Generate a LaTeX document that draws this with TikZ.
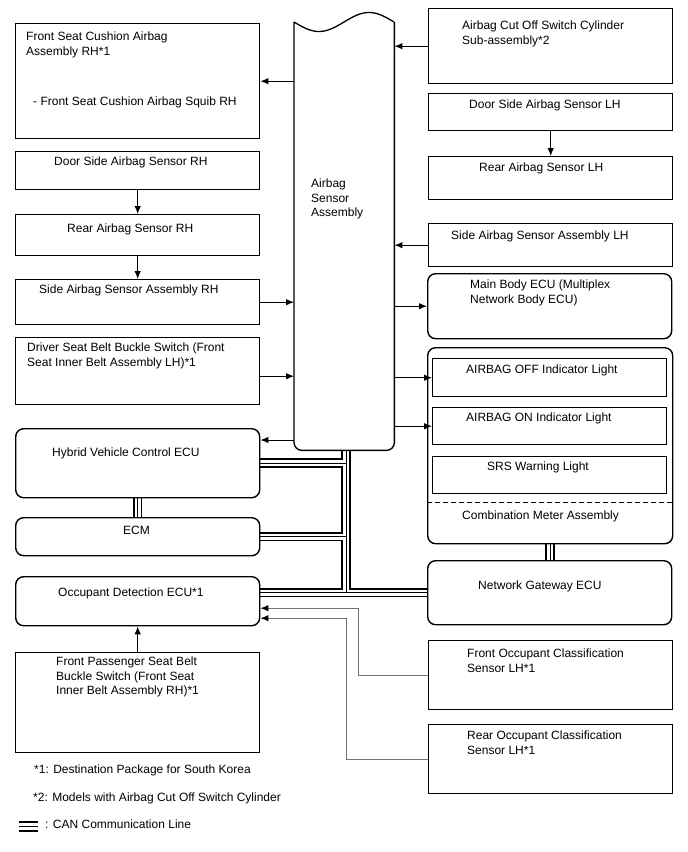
\documentclass[tikz,border=0pt]{standalone}
\usepackage{fontspec}
\setmainfont{Liberation Sans}
\usetikzlibrary{arrows.meta,backgrounds}

\tikzset{
  box/.style={draw, line width=1.4pt, minimum width=244pt, anchor=north west, inner sep=0pt},
  ecu/.style={box, rounded corners=8pt},
  lamp/.style={box, minimum width=234pt},
  txt/.style={anchor=north west, inner sep=0pt, align=left, font=\fontsize{12}{14.5}\selectfont},
  arr/.style={line width=1pt, -{Latex[length=8pt,width=6.5pt]}},
  feed/.style={line width=1pt, draw=black!55, -{Latex[length=8pt,width=6.5pt,color=black]}},
}

\begin{document}
\begin{tikzpicture}[x=1pt, y=-1pt]
  \useasboundingbox (0,0) rectangle (688,852);

  % airbag sensor assembly
  \node[minimum width=100pt, minimum height=428pt, anchor=north west, inner sep=0pt] (sas) at (294,22) {};
  \draw[line width=1.3pt, domain=0:100, samples=50, variable=\t]
    plot ({294+\t},{22+9.5*sin(3.6*\t)});
  \draw[line width=1.4pt, rounded corners=8pt]
    (sas.north east) -- (sas.south east) -- (sas.south west) -- (sas.north west);
  \node[txt] (sastext) at (311,179) {Airbag\\Sensor\\Assembly};

  % left column
  \node[box, minimum height=115pt] (fsc) at (15,23) {};
  \node[box, minimum height=38pt] (dsr) at (15,151) {};
  \node[box, minimum height=41pt] (rar) at (15,214) {};
  \node[box, minimum height=45pt] (sar) at (15,279) {};
  \node[box, minimum height=67pt] (dsb) at (15,337) {};
  \node[ecu, minimum height=69pt] (hv) at (15,428) {};
  \node[ecu, minimum height=38pt] (ecm) at (15,517) {};
  \node[ecu, minimum height=49pt] (ode) at (15,576) {};
  \node[box, minimum height=100pt] (fps) at (15,652) {};

  \node[txt] (fsctext) at (26,32) {Front Seat Cushion Airbag\\Assembly RH*1};
  \node[txt] (sqbtext) at (33,97) {- Front Seat Cushion Airbag Squib RH};
  \node[txt] (dsrtext) at (54,157) {Door Side Airbag Sensor RH};
  \node[txt] (rartext) at (67,224) {Rear Airbag Sensor RH};
  \node[txt] (sartext) at (39,285) {Side Airbag Sensor Assembly RH};
  \node[txt] (dsbtext) at (27,343) {Driver Seat Belt Buckle Switch (Front\\Seat Inner Belt Assembly LH)*1};
  \node[txt] (hvtext) at (52,448) {Hybrid Vehicle Control ECU};
  \node[txt] (ecmtext) at (123,526) {ECM};
  \node[txt] (odetext) at (58,588) {Occupant Detection ECU*1};
  \node[txt] (fpstext) at (56,657) {Front Passenger Seat Belt\\Buckle Switch (Front Seat\\Inner Belt Assembly RH)*1};

  % right column
  \node[box, minimum height=75pt] (aco) at (428,8) {};
  \node[box, minimum height=37pt] (dsl) at (428,93) {};
  \node[box, minimum height=43pt] (ral) at (428,156) {};
  \node[box, minimum height=43pt] (sal) at (428,223) {};
  \node[ecu, minimum height=65pt] (mbe) at (427,273) {};
  \node[ecu, minimum width=245pt, minimum height=196pt] (cma) at (427,347) {};
  \node[lamp, minimum height=38pt] (off) at (432,358) {};
  \node[lamp, minimum height=37pt] (on) at (432,407) {};
  \node[lamp, minimum height=37pt] (srs) at (432,456) {};
  \draw[line width=1pt, dash pattern=on 5pt off 3pt]
    ([yshift=-155pt]cma.north west) -- ([yshift=-155pt]cma.north east);
  \node[ecu, minimum height=64pt] (nge) at (427,560) {};
  \node[box, minimum height=69pt] (foc) at (428,640) {};
  \node[box, minimum height=69pt] (roc) at (428,724) {};

  \node[txt] (acotext) at (462,21) {Airbag Cut Off Switch Cylinder\\Sub-assembly*2};
  \node[txt] (dsltext) at (469,100) {Door Side Airbag Sensor LH};
  \node[txt] (raltext) at (479,163) {Rear Airbag Sensor LH};
  \node[txt] (saltext) at (451,231) {Side Airbag Sensor Assembly LH};
  \node[txt] (mbetext) at (470,280) {Main Body ECU (Multiplex\\Network Body ECU)};
  \node[txt] (offtext) at (466,365) {AIRBAG OFF Indicator Light};
  \node[txt] (ontext) at (466,413) {AIRBAG ON Indicator Light};
  \node[txt] (srstext) at (487,462) {SRS Warning Light};
  \node[txt] (cmatext) at (462,511) {Combination Meter Assembly};
  \node[txt] (ngetext) at (478,581) {Network Gateway ECU};
  \node[txt] (foctext) at (467,649) {Front Occupant Classification\\Sensor LH*1};
  \node[txt] (roctext) at (467,731) {Rear Occupant Classification\\Sensor LH*1};

  % signal lines
  \coordinate (dsbout) at ([yshift=-5pt]dsb.east);
  \coordinate (hvin) at ([yshift=-12pt]hv.north east);
  \draw[arr] (sas.west |- fsc.east) -- (fsc.east);
  \draw[arr] (aco.west) -- (aco.west -| sas.east);
  \draw[arr] (dsr.south) -- (rar.north);
  \draw[arr] (rar.south) -- (sar.north);
  \draw[arr] (sar.east) -- (sar.east -| sas.west);
  \draw[arr] (dsbout) -- (dsbout -| sas.west);
  \draw[arr] (dsl.south) -- (ral.north);
  \draw[arr] (sal.west) -- (sal.west -| sas.east);
  \draw[arr] (sas.east |- mbe.west) -- (mbe.west);
  \draw[arr] (sas.east |- off.west) -- (off.west);
  \draw[arr] (sas.east |- on.west) -- (on.west);
  \draw[arr] (hvin -| sas.west) -- (hvin);
  \draw[arr] (fps.north) -- (ode.south);

  \coordinate (odein1) at ([yshift=-7pt]ode.east);
  \coordinate (odein2) at ([yshift=-17pt]ode.east);
  \draw[feed] (foc.west) -- ++(-70,0) |- (odein1);
  \draw[feed] (roc.west) -- ++(-82,0) |- (odein2);

  % CAN lines
  \coordinate (bus) at ([xshift=2pt]sas.south);
  \begin{pgfonlayer}{background}
    \foreach \lw/\lc in {9.5/black, 6/white, 1/black}
      \draw[line width=\lw pt, draw=\lc]
        (bus) -- (bus |- nge.west)
        (hv.east) -- (hv.east -| bus)
        (ecm.east) -- (ecm.east -| bus)
        (ode.east |- nge.west) -- (nge.west)
        (hv.south) -- (ecm.north)
        (cma.south) -- (cma.south |- nge.north);
  \end{pgfonlayer}

  % legend
  \node[txt] (note1) at (34,765) {*1: Destination Package for South Korea};
  \node[txt] (note2) at (33,793) {*2: Models with Airbag Cut Off Switch Cylinder};
  \foreach \y in {822,826.5,831}
    \draw[line width=1.8pt] (19,\y) -- (38,\y);
  \node[txt] (cantext) at (45,820) {: CAN Communication Line};
\end{tikzpicture}
\end{document}
